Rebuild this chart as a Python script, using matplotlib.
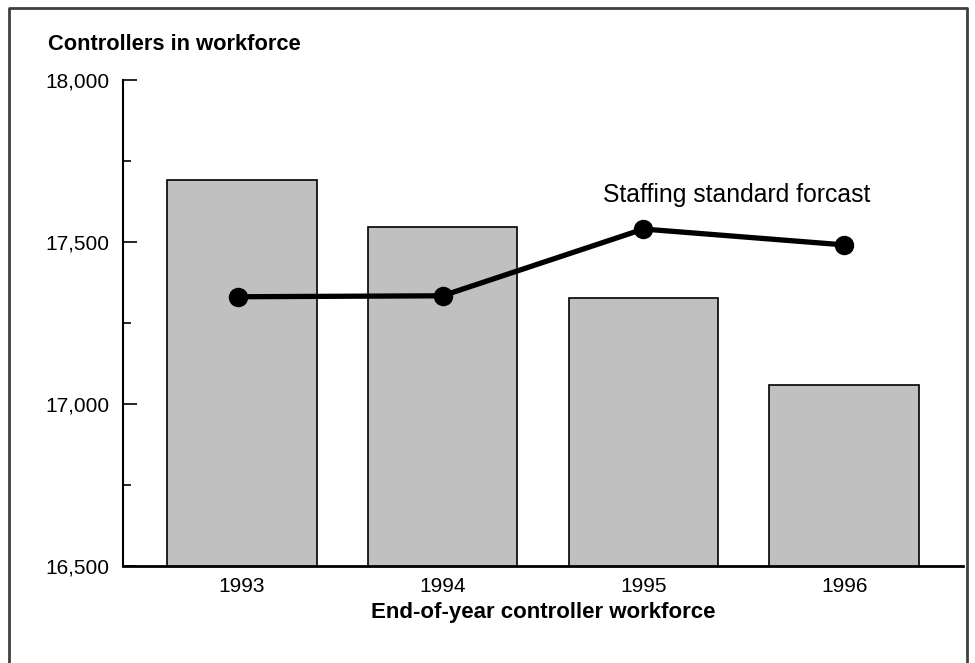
import matplotlib
matplotlib.use("Agg")
import matplotlib.pyplot as plt
from matplotlib.lines import Line2D
from matplotlib.ticker import MultipleLocator, FuncFormatter

years = ["1993", "1994", "1995", "1996"]
workforce = [17690, 17546, 17328, 17058]
forecast = [17331, 17334, 17540, 17491]
yticks = [16500, 17000, 17500, 18000]

plt.rcParams['font.family'] = ['Liberation Sans', 'DejaVu Sans']

W, H = 975, 663
fig = plt.figure(figsize=(W / 100, H / 100), dpi=100)
ax = fig.add_axes([123 / W, 1 - 566 / H, (963 - 123) / W, (566 - 80) / H])

x = list(range(len(years)))
ax.bar(x, workforce, width=0.746, color='#c0c0c0', edgecolor='black', linewidth=1.2, zorder=2)
ax.plot([xi - 0.02 if i == 0 else xi for i, xi in enumerate(x)], forecast, color='black', lw=3.8,
        marker='o', markersize=13, zorder=3)
ax.text(2.465, 17645, "Staffing standard forcast", fontsize=17.8, ha='center', va='center')

ax.set_xlim(-0.59, 3.59)
ax.set_ylim(16500, 18000)
ax.set_yticks(yticks)
ax.yaxis.set_minor_locator(MultipleLocator(250))
ax.yaxis.set_major_formatter(FuncFormatter(lambda v, p: f"{int(v):,}"))
ax.tick_params(axis='y', which='major', direction='in', length=10, width=1.2, labelsize=15, pad=9.5)
ax.tick_params(axis='y', which='minor', direction='in', length=6, width=1.2)
ax.set_xticks(x)
ax.set_xticklabels(years)
ax.tick_params(axis='x', length=0, labelsize=15, pad=8)
for s in ['top', 'right']:
    ax.spines[s].set_visible(False)
ax.spines['left'].set_linewidth(1.5)
ax.spines['bottom'].set_linewidth(2)
ax.set_xlabel("End-of-year controller workforce", fontsize=16, fontweight='bold', labelpad=4)

fig.text(48 / W, 1 - 45 / H, "Controllers in workforce", fontsize=15.75, fontweight='bold',
         ha='left', va='center')

# figure frame (left, top, right)
fx0, fx1, fy = 9 / W, 967 / W, 1 - 8 / H
fig.add_artist(Line2D([fx0, fx0, fx1, fx1], [0, fy, fy, 0], transform=fig.transFigure,
                      color='#404040', lw=2))

fig.savefig("out.png", dpi=100)
